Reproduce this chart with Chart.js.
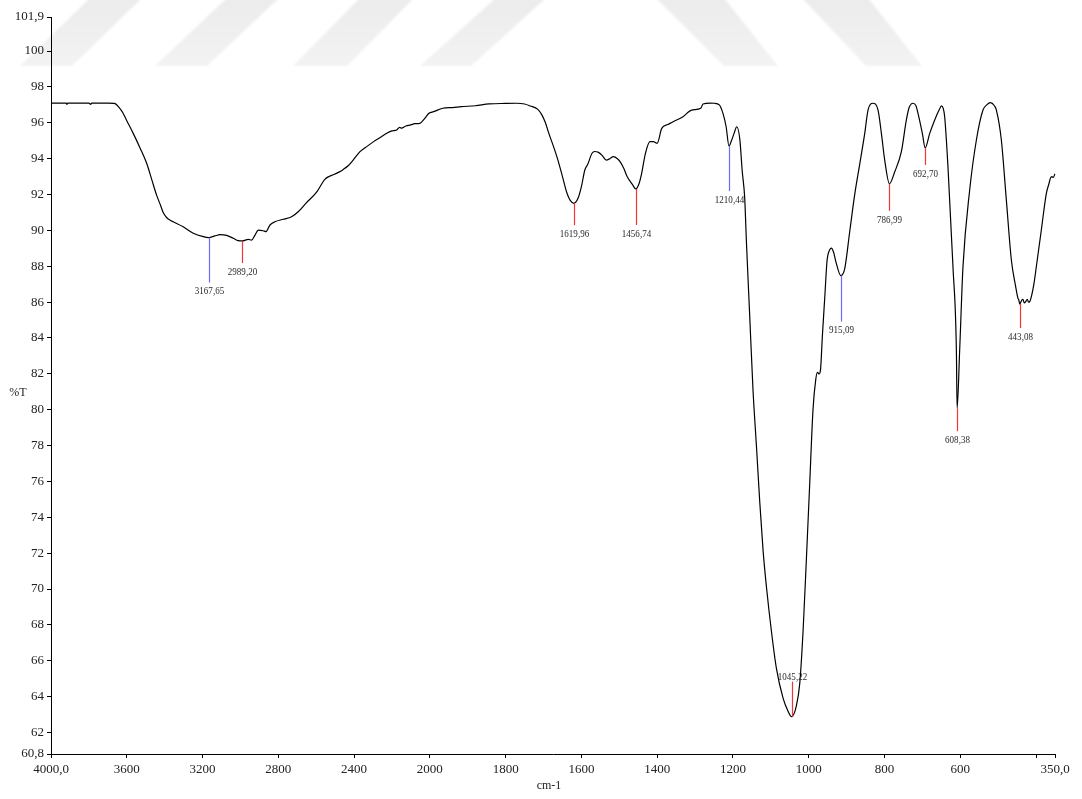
<!DOCTYPE html>
<html>
<head>
<meta charset="utf-8">
<title>FTIR spectrum</title>
<script src="https://cdn.jsdelivr.net/npm/chart.js@4.4.1/dist/chart.umd.min.js"></script>
<style>
  html, body { margin: 0; padding: 0; background: #ffffff; }
  #wrap { width: 1082px; height: 799px; position: relative; }
  canvas { display: block; }
</style>
</head>
<body>
<div id="wrap"><canvas id="spectrum" width="1082" height="799"></canvas></div>
<script>
// Wavenumber (cm-1), from high to low
const WAVENUMBER = [
  4000, 3960, 3920, 3916, 3912, 3800, 3790, 3786, 3700, 3665,
  3640, 3620, 3600, 3566, 3530, 3495, 3470, 3442, 3420, 3407,
  3390, 3370, 3355, 3302, 3249, 3196, 3167.65, 3135, 3108, 3073, 3038,
  3012, 2989.20, 2959, 2941, 2923, 2906, 2880, 2865, 2844, 2818,
  2774, 2730, 2695, 2651, 2600, 2554, 2530, 2510, 2480, 2457,
  2430, 2405, 2369, 2330, 2297, 2260, 2230, 2200, 2175, 2160,
  2150, 2127, 2100, 2080, 2053, 2030, 2005, 1990, 1966, 1940,
  1917, 1880, 1844, 1800, 1771, 1750, 1735, 1715, 1704, 1695,
  1686, 1674, 1662, 1650, 1638, 1630, 1619.96, 1609, 1600, 1591,
  1583, 1572, 1565, 1555, 1546, 1534, 1525, 1516, 1505, 1498,
  1488, 1479, 1465, 1456.74, 1448, 1441, 1431, 1419, 1410, 1400,
  1388, 1372, 1358, 1334, 1309, 1285, 1279, 1260, 1249, 1236,
  1226, 1218, 1210.44, 1204, 1197, 1190, 1182, 1175.5, 1169, 1164.4,
  1155.7, 1147, 1138, 1129.3, 1120.6, 1111.6, 1098.4, 1085.2, 1067.8, 1054.6,
  1045.22, 1032.5, 1023.7, 1015, 1006, 997.4, 988.7, 981.5, 977, 972.8,
  969.1, 963.9, 957.8, 951.7, 945, 940, 934, 928.8, 915.09, 905,
  891.8, 878.6, 865.4, 852.2, 843.5, 830.3, 817.1, 808.2, 799.5, 786.99,
  773, 755.5, 742.3, 735, 724.8, 717, 711.6, 700, 692.70, 680.7,
  667.5, 655, 649.9, 645, 641.2, 632.5, 619.3, 610.3, 608.38, 601.6,
  592.9, 575.2, 557.5, 540.1, 530, 520.6, 510, 504.7, 491.6, 478.4,
  465.2, 453.8, 447.8, 445.5, 443.08, 438, 434.6, 431, 428, 423,
  420, 417, 410.8, 405, 399.3, 386.1, 372.8, 366, 362.3, 358,
  355, 350
];

// Transmittance (%T) at each wavenumber above
const TRANSMITTANCE = [
  97.10, 97.10, 97.10, 97.03, 97.10, 97.10, 97.03, 97.10, 97.10, 97.08,
  96.85, 96.55, 96.12, 95.41, 94.60, 93.74, 92.90, 91.95, 91.35, 90.98,
  90.72, 90.56, 90.48, 90.20, 89.84, 89.65, 89.60, 89.69, 89.76, 89.72, 89.56,
  89.43, 89.41, 89.50, 89.46, 89.74, 90.02, 89.98, 89.93, 90.30, 90.48,
  90.62, 90.76, 91.04, 91.55, 92.10, 92.85, 93.02, 93.10, 93.25, 93.40,
  93.62, 93.92, 94.39, 94.70, 94.95, 95.20, 95.40, 95.55, 95.60, 95.75,
  95.70, 95.82, 95.88, 95.95, 95.97, 96.20, 96.53, 96.62, 96.81, 96.85,
  96.90, 96.95, 97.05, 97.08, 97.09, 97.05, 96.94, 96.75, 96.43, 96.00,
  95.41, 94.70, 93.92, 93.00, 92.07, 91.69, 91.51, 91.79, 92.44, 93.37,
  93.70, 94.30, 94.40, 94.35, 94.20, 93.92, 94.00, 94.11, 94.00, 93.83,
  93.45, 92.99, 92.55, 92.31, 92.60, 93.18, 94.30, 94.95, 94.95, 94.86,
  95.69, 95.90, 96.06, 96.31, 96.71, 96.81, 97.05, 97.10, 97.09, 97.00,
  96.50, 95.78, 94.70, 95.00, 95.41, 95.78, 95.10, 93.30, 91.80, 89.32,
  85.19, 81.06, 77.96, 74.86, 72.17, 70.11, 67.63, 65.56, 63.92, 63.19,
  62.88, 63.50, 64.74, 67.63, 71.76, 75.89, 80.02, 81.68, 82.09, 81.99,
  82.19, 84.15, 86.22, 88.29, 88.90, 89.01, 88.75, 88.29, 87.48, 87.87,
  89.94, 92.01, 93.70, 95.41, 96.71, 97.09, 96.71, 95.41, 93.92, 92.60,
  93.27, 94.39, 96.16, 96.85, 97.09, 96.95, 96.53, 95.40, 94.60, 95.41,
  96.16, 96.75, 96.94, 96.80, 96.34, 93.55, 87.97, 83.33, 80.08, 83.33,
  87.97, 92.25, 95.04, 96.71, 97.00, 97.12, 96.95, 96.71, 95.04, 91.69,
  88.35, 86.86, 86.21, 86.12, 85.89, 86.10, 86.16, 85.95, 86.00, 86.16,
  86.00, 86.02, 86.45, 87.10, 87.97, 90.02, 92.07, 92.60, 92.90, 93.00,
  92.95, 93.15
];

// Labelled band positions (cm-1)
const PEAK_WAVENUMBERS = [3167.65, 2989.20, 1619.96, 1456.74, 1210.44, 1045.22, 915.09, 786.99, 692.70, 608.38, 443.08];

// Axis ticks
const X_TICKS = [4000, 3600, 3200, 2800, 2400, 2000, 1800, 1600, 1400, 1200, 1000, 800, 600, 400, 350];
const X_TICK_LABELS = ['4000,0', '3600', '3200', '2800', '2400', '2000', '1800', '1600', '1400', '1200', '1000', '800', '600', '', '350,0'];
const Y_TICKS = [60.8, 62, 64, 66, 68, 70, 72, 74, 76, 78, 80, 82, 84, 86, 88, 90, 92, 94, 96, 98, 100, 101.9];
const Y_TICK_LABELS = ['60,8', '62', '64', '66', '68', '70', '72', '74', '76', '78', '80', '82', '84', '86', '88', '90', '92', '94', '96', '98', '100', '101,9'];

// Marker styling for the band labels (colour, stem length in px; negative = upward)
const MARKER_STYLE = [
  ['#6b6bf7', 45], ['#f43434', 22], ['#f43434', 22], ['#f43434', 36], ['#6b6bf7', 45],
  ['#f43434', -35], ['#6b6bf7', 46], ['#f43434', 27], ['#f43434', 17], ['#f43434', 23], ['#f43434', 24]
];

const SERIF = '"Liberation Serif", "Times New Roman", serif';

// Wavenumber axis: the region above 2000 cm-1 is drawn at half scale
const X_HIGH = 4000, X_LOW = 350, X_BREAK = 2000;
const compress = v => (v <= X_BREAK ? v : X_BREAK + (v - X_BREAK) / 2);
const expand = u => (u <= X_BREAK ? u : X_BREAK + (u - X_BREAK) * 2);

class WavenumberScale extends Chart.LinearScale {
  determineDataLimits() {
    this.min = compress(X_LOW);
    this.max = compress(X_HIGH);
  }
  buildTicks() {
    return X_TICKS.map(v => ({ value: v }));
  }
  getPixelForValue(value) {
    return super.getPixelForValue(compress(value));
  }
  getValueForPixel(pixel) {
    return expand(super.getValueForPixel(pixel));
  }
}
WavenumberScale.id = 'wavenumber';
WavenumberScale.defaults = Chart.LinearScale.defaults;
Chart.register(WavenumberScale);

// Faint diagonal bands printed across the top of the sheet
const backdrop = {
  id: 'backdrop',
  beforeDraw(chart) {
    const ctx = chart.ctx;
    const bands = [
      [[20, 66], [72, 66], [142, -2], [90, -2]],
      [[155, 66], [207, 66], [279, -2], [227, -2]],
      [[293, 66], [347, 66], [414, -2], [360, -2]],
      [[420, 66], [471, 66], [546, -2], [496, -2]],
      [[656, -2], [724, -2], [778, 66], [724, 66]],
      [[802, -2], [868, -2], [922, 66], [866, 66]]
    ];
    ctx.save();
    ctx.filter = 'blur(1.2px)';
    const g = ctx.createLinearGradient(0, 0, 0, 68);
    g.addColorStop(0, '#ececec');
    g.addColorStop(1, '#f3f3f3');
    ctx.fillStyle = g;
    bands.forEach(b => {
      ctx.beginPath();
      ctx.moveTo(b[0][0], b[0][1]);
      for (let i = 1; i < b.length; i++) ctx.lineTo(b[i][0], b[i][1]);
      ctx.closePath();
      ctx.fill();
    });
    ctx.restore();
  }
};

// Band markers, their wavenumber labels and the axis captions
const annotations = {
  id: 'annotations',
  afterDatasetsDraw(chart) {
    const ctx = chart.ctx;
    const xs = chart.scales.x, ys = chart.scales.y;
    ctx.save();
    PEAK_WAVENUMBERS.forEach((wn, i) => {
      const idx = WAVENUMBER.indexOf(wn);
      const t = TRANSMITTANCE[idx];
      const px = Math.round(xs.getPixelForValue(wn)) + 0.5;
      const py = ys.getPixelForValue(t);
      const [color, len] = MARKER_STYLE[i];
      ctx.strokeStyle = color;
      ctx.lineWidth = 1.2;
      ctx.beginPath();
      ctx.moveTo(px, py);
      ctx.lineTo(px, py + len);
      ctx.stroke();

      const text = wn.toFixed(2).replace('.', ',');
      const ty = len >= 0 ? py + len + 9 : py + len - 5;
      ctx.save();
      ctx.translate(px, ty);
      ctx.scale(0.82, 1);
      ctx.font = '11px ' + SERIF;
      ctx.fillStyle = '#2a2a2a';
      ctx.textAlign = 'center';
      ctx.textBaseline = 'middle';
      ctx.fillText(text, 0, 0);
      ctx.restore();
    });

    ctx.font = '12px ' + SERIF;
    ctx.fillStyle = '#222';
    ctx.textAlign = 'center';
    ctx.textBaseline = 'middle';
    ctx.fillText('%T', 18, 393);
    ctx.fillText('cm-1', 549, 786);
    ctx.restore();
  }
};

const axisGrid = {
  display: true,
  drawOnChartArea: false,
  drawTicks: true,
  tickLength: 4,
  color: '#000',
  lineWidth: 1
};

new Chart(document.getElementById('spectrum'), {
  type: 'line',
  data: {
    datasets: [{
      data: WAVENUMBER.map((w, i) => ({ x: w, y: TRANSMITTANCE[i] })),
      borderColor: '#000',
      borderWidth: 1.2,
      pointRadius: 0,
      fill: false,
      cubicInterpolationMode: 'monotone'
    }]
  },
  options: {
    responsive: false,
    animation: false,
    events: [],
    layout: { padding: { left: 0, top: 17, right: 27, bottom: 0 } },
    plugins: {
      legend: { display: false },
      tooltip: { enabled: false },
      title: { display: false }
    },
    scales: {
      x: {
        type: 'wavenumber',
        position: 'bottom',
        reverse: true,
        grid: axisGrid,
        border: { display: true, color: '#000', width: 1 },
        ticks: {
          autoSkip: false,
          maxRotation: 0,
          minRotation: 0,
          padding: 4,
          color: '#222',
          font: { family: SERIF, size: 13 },
          callback: (v) => X_TICK_LABELS[X_TICKS.indexOf(v)]
        },
        afterFit: (s) => { s.height = 45; }
      },
      y: {
        type: 'linear',
        min: 60.8,
        max: 101.9,
        grid: axisGrid,
        border: { display: true, color: '#000', width: 1 },
        afterBuildTicks: (s) => { s.ticks = Y_TICKS.map(v => ({ value: v })); },
        ticks: {
          autoSkip: false,
          padding: 3,
          color: '#222',
          font: { family: SERIF, size: 13 },
          callback: (v) => Y_TICK_LABELS[Y_TICKS.indexOf(v)]
        },
        afterFit: (s) => { s.width = 51; }
      }
    }
  },
  plugins: [backdrop, annotations]
});
</script>
</body>
</html>
